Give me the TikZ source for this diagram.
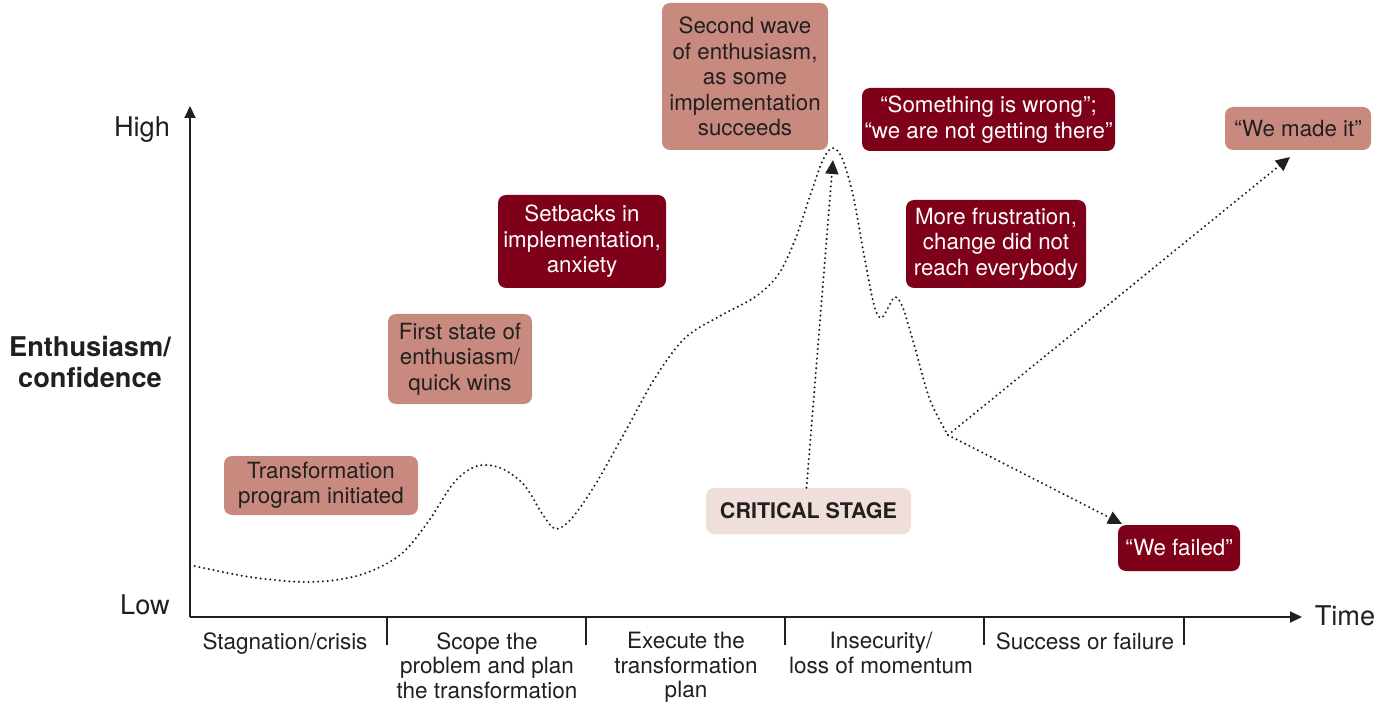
\documentclass[tikz,border=0pt]{standalone}
\usepackage{fontspec}
\setmainfont{TeX Gyre Heros}
\usetikzlibrary{arrows.meta}
\definecolor{brickpale}{HTML}{C88A7F}
\definecolor{wine}{HTML}{7E0019}
\definecolor{blush}{HTML}{F0DEDA}
\definecolor{inkdark}{HTML}{231F20}
\newcommand\bxfont{\fontsize{22.3}{25.5}\selectfont}
\newcommand\axfont{\fontsize{22.5}{24.5}\selectfont}
\newcommand\bigfont{\fontsize{27.2}{31}\selectfont}
\tikzset{
  card/.style={rounded corners=8pt, align=center, inner sep=0pt, font=\bxfont},
  softcard/.style={card, fill=brickpale, text=inkdark},
  darkcard/.style={card, fill=wine, text=white},
  axisline/.style={draw=inkdark, line width=1.8pt},
  tickline/.style={draw=inkdark, line width=1.4pt},
  phase/.style={anchor=north, align=center, inner sep=0pt, font=\axfont, text=inkdark},
  dots/.style={draw=inkdark, line width=2.3pt, dash pattern=on 0pt off 4.8pt, line cap=round},
  tip/.style={-{Triangle[length=14pt,width=13pt]}},
}
\begin{document}
\begin{tikzpicture}[x=1pt,y=-1pt]
\useasboundingbox (0,0) rectangle (1392,703);

% axes
\coordinate (origin) at (190,617);
\coordinate (ytop) at (190,106);
\coordinate (xend) at (1302,617);
\draw[axisline, -{Triangle[length=12pt,width=11pt]}] (origin) -- (ytop);
\draw[axisline, -{Triangle[length=12pt,width=11pt]}] (origin) -- (xend);

% phase separators
\foreach \tx in {387,586,785,984,1184}
  \draw[tickline] (\tx,617) -- (\tx,645);

% axis texts
\node[font=\bigfont, text=inkdark] (high) at (142,130) {High};
\node[font=\bigfont, text=inkdark] (low) at (145,605) {Low};
\node[font=\bigfont, text=inkdark] (time) at (1345,616) {Time};
\node[font=\bigfont\bfseries, align=center, text=inkdark] (ylabel) at (90,362) {Enthusiasm/\\confidence};

% phase labels
\node[phase] (p1) at (285,632) {Stagnation/crisis};
\node[phase] (p2) at (487,632) {Scope the\\problem and plan\\the transformation};
\node[phase] (p3) at (686,632) {Execute the\\transformation\\plan};
\node[phase] (p4) at (881,632) {Insecurity/\\loss of momentum};
\node[phase] (p5) at (1085,632) {Success or failure};

% stage cards
\node[softcard, minimum width=194pt, minimum height=59pt] (initiated) at (321,485.5) {Transformation\\program initiated};
\node[softcard, minimum width=144pt, minimum height=90pt] (firstwave) at (460,359) {First state of\\enthusiasm/\\quick wins};
\node[darkcard, minimum width=168pt, minimum height=93pt] (setbacks) at (582,241.5) {Setbacks in\\implementation,\\anxiety};
\node[softcard, minimum width=166pt, minimum height=147pt] (secondwave) at (745,76.5) {Second wave\\of enthusiasm,\\as some\\implementation\\succeeds};
\node[darkcard, minimum width=253pt, minimum height=63pt] (wrong) at (988.5,119.5) {“Something is wrong”;\\“we are not getting there”};
\node[darkcard, minimum width=180pt, minimum height=88pt] (frustration) at (996,244) {More frustration,\\change did not\\reach everybody};
\node[softcard, minimum width=146pt, minimum height=43pt] (madeit) at (1298,128.5) {“We made it”};
\node[darkcard, minimum width=122pt, minimum height=46pt] (failed) at (1179,548) {“We failed”};
\node[card, fill=blush, text=inkdark, font=\fontsize{21.5}{25}\selectfont\bfseries, minimum width=205pt, minimum height=46pt] (critical) at (808.5,511) {CRITICAL STAGE};

% enthusiasm curve
\draw[dots] plot[smooth, tension=0.55] coordinates {
  (190,565) (250,577) (310,582) (360,575) (400,555) (428,522) (452,485)
  (470,469) (486,465) (505,470) (525,486) (543,515) (556,529) (572,518)
  (595,485) (625,432) (655,378) (685,338) (720,316) (755,297) (778,275)
  (795,240) (810,196) (822,162) (832,148) (842,158) (853,195) (864,255)
  (874,305) (881,318) (888,308) (895,297) (903,308) (915,348) (930,400)
  (948,435)};

% outcomes after the critical stage
\coordinate (split) at (948,435);
\coordinate (madeittip) at (1290,157);
\coordinate (failedtip) at (1122,524);
\coordinate (peaktip) at (833,160);
\draw[dots, tip] (split) -- (madeittip);
\draw[dots, tip] (split) -- (failedtip);
\draw[dots, tip] ([xshift=-2pt]critical.north) -- (peaktip);
\end{tikzpicture}
\end{document}
